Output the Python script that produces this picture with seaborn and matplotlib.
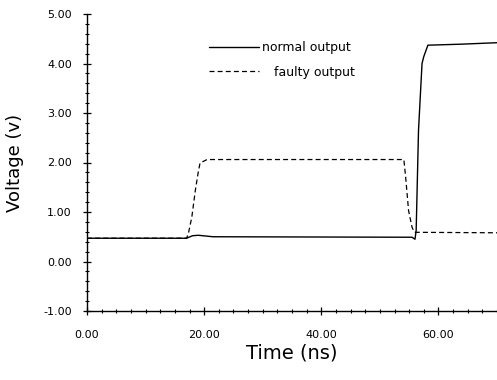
import matplotlib
matplotlib.use("Agg")
import matplotlib.pyplot as plt
import seaborn as sns
import pandas as pd
from matplotlib.ticker import MultipleLocator, FormatStrFormatter
from matplotlib.lines import Line2D

# Data
normal_t = [0, 17.0, 18.0, 19.0, 21.5, 55.5, 56.0, 56.2, 56.6, 57.2, 57.5, 58.2, 63.8, 70]
normal_v = [0.47, 0.47, 0.52, 0.53, 0.50, 0.49, 0.45, 0.63, 2.65, 4.0, 4.14, 4.37, 4.39, 4.42]
faulty_t = [0, 17.0, 17.3, 17.9, 18.5, 19.0, 19.3, 20.5, 54.1, 54.4, 54.9, 55.5, 55.9, 70]
faulty_v = [0.47, 0.47, 0.56, 0.90, 1.44, 1.81, 1.99, 2.06, 2.06, 1.71, 1.03, 0.69, 0.59, 0.58]
labels = ["normal output", "faulty output"]

sns.set_style("ticks")
plt.rcParams["font.family"] = ["DejaVu Sans"]
plt.rcParams["axes.unicode_minus"] = False
plt.rcParams["text.color"] = "black"
plt.rcParams["axes.labelcolor"] = "black"

df = pd.concat([
    pd.DataFrame({"t": normal_t, "v": normal_v, "s": labels[0]}),
    pd.DataFrame({"t": faulty_t, "v": faulty_v, "s": labels[1]}),
])

fig = plt.figure(figsize=(4.97, 3.8), dpi=100)
ax = fig.add_axes([87/497, 69/380, 410/497, 297/380])

sns.lineplot(data=df[df.s == labels[0]], x="t", y="v", ax=ax, color="black",
             linewidth=1.0, estimator=None, sort=False)
sns.lineplot(data=df[df.s == labels[1]], x="t", y="v", ax=ax, color="black",
             linewidth=0.9, estimator=None, sort=False, dashes=False)
ax.lines[1].set_dashes([4, 2.5])

ax.set_xlim(0, 70)
ax.set_ylim(-1, 5)
ax.xaxis.set_major_locator(MultipleLocator(20))
ax.xaxis.set_minor_locator(MultipleLocator(2.5))
ax.yaxis.set_major_locator(MultipleLocator(1))
ax.yaxis.set_minor_locator(MultipleLocator(0.2))
ax.xaxis.set_major_formatter(FormatStrFormatter("%.2f"))
ax.yaxis.set_major_formatter(FormatStrFormatter("%.2f"))
ax.tick_params(which="major", direction="inout", length=6, width=0.9, labelsize=8, pad=8, colors="black")
ax.tick_params(axis="x", which="major", pad=11)
ax.tick_params(which="minor", direction="inout", length=3.5, width=0.8, colors="black")
for s in ["top", "right"]:
    ax.spines[s].set_visible(False)
for s in ["left", "bottom"]:
    ax.spines[s].set_linewidth(1.0)
    ax.spines[s].set_color("black")

ax.set_xlabel("Time (ns)", fontsize=14, labelpad=2, color="black")
ax.set_ylabel("Voltage (v)", fontsize=13, labelpad=14, color="black")

handles = [Line2D([], [], color="black", linewidth=1.0),
           Line2D([], [], color="black", linewidth=0.9, dashes=[4, 2.5])]
leg = ax.legend(handles, [labels[0], "   " + labels[1]], frameon=False, fontsize=9,
                handlelength=4.0, handletextpad=0.25, labelspacing=0.9,
                loc="upper left", bbox_to_anchor=(0.286, 0.925), borderaxespad=0)
for txt in leg.get_texts():
    txt.set_color("black")

fig.savefig("out.png", dpi=100)
